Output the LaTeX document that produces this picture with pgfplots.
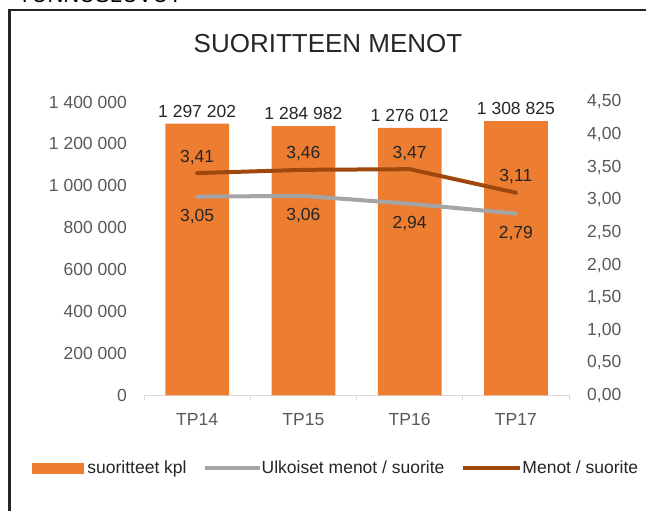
\documentclass[border=0pt]{standalone}
\usepackage{fontspec}
\setmainfont{Liberation Sans}
\usepackage{pgfplots}
\pgfplotsset{compat=1.18}
\definecolor{barorange}{HTML}{ED7D31}
\definecolor{lgray}{HTML}{A5A5A5}
\definecolor{dbrown}{HTML}{9E480E}
\definecolor{tickgray}{HTML}{595959}
\definecolor{axisgray}{HTML}{D9D9D9}
\definecolor{labtext}{HTML}{262626}
\pgfkeys{/pgf/number format/assume math mode=true}
\begin{document}
\fontsize{17.5bp}{20bp}\selectfont
\begin{tikzpicture}
\path[use as bounding box] (0,0) rectangle (646bp,511bp);
\clip (0,0) rectangle (646bp,511bp);
\fill[white] (0,0) rectangle (646bp,511bp);
% cut-off heading above the frame
\node[anchor=base west, inner sep=0pt, font=\fontsize{22bp}{24bp}\selectfont] at (18bp,508bp) {TUNNUSLUVUT};
% frame
\draw[line width=2.3bp, color=black!85] (9.5bp,-10bp) -- (9.5bp,500.7bp) -- (680bp,500.7bp);
% title
\node[anchor=base, inner sep=0pt, text=labtext, font=\fontsize{26bp}{30bp}\selectfont] at (328bp,458bp) {SUORITTEEN MENOT};

\begin{axis}[
  at={(144bp,115.5bp)}, anchor=south west,
  scale only axis, width=425bp, height=293.5bp,
  xmin=-0.5, xmax=3.5, ymin=0, ymax=1400000,
  xtick={0,1,2,3}, xticklabels={TP14,TP15,TP16,TP17},
  minor xtick={-0.5,0.5,1.5,2.5,3.5},
  ytick={0,200000,400000,600000,800000,1000000,1200000,1400000},
  axis x line*=bottom, axis y line*=left,
  y axis line style={draw=none},
  x axis line style={draw=axisgray, line width=1bp},
  major tick length=0pt, minor tick length=5bp, tick align=outside,
  minor tick style={draw=axisgray, line width=1bp},
  scaled y ticks=false,
  yticklabel style={anchor=east, inner sep=0pt, xshift=-17bp, text=tickgray,
     /pgf/number format/.cd, fixed, 1000 sep={\ }},
  xticklabel style={anchor=base, inner sep=0pt, yshift=-30.5bp, text=tickgray},
  ybar, bar width=0.6,
  nodes near coords,
  nodes near coords style={anchor=south, inner sep=0pt, yshift=6bp, text=labtext,
     /pgf/number format/.cd, fixed, 1000 sep={\ }},
]
\addplot[fill=barorange, draw=none] coordinates {(0,1297202) (1,1284982) (2,1276012) (3,1308825)};
\end{axis}

\begin{axis}[
  at={(144bp,115.5bp)}, anchor=south west,
  scale only axis, width=425bp, height=293.5bp,
  xmin=-0.5, xmax=3.5, ymin=0, ymax=4.5,
  axis x line=none, axis y line*=right,
  y axis line style={draw=none},
  major tick length=0pt,
  ytick={0,0.5,1,1.5,2,2.5,3,3.5,4,4.5},
  yticklabel style={anchor=west, inner sep=0pt, xshift=18bp, text=tickgray,
     /pgf/number format/.cd, fixed, fixed zerofill, precision=2, use comma},
  legend columns=3,
  legend style={at={(-0.2635,-0.247)}, anchor=west, draw=none, fill=none,
     inner sep=0pt, outer sep=0pt,
     font=\fontsize{17.5bp}{20bp}\selectfont,
     nodes={inner sep=0pt, outer sep=0pt, text=labtext},
     /tikz/column 1/.style={column sep=4bp},
     /tikz/column 2/.style={column sep=16bp},
     /tikz/column 3/.style={column sep=0bp},
     /tikz/column 4/.style={column sep=17bp},
     /tikz/column 5/.style={column sep=0bp}},
  legend cell align=left,
]
\addlegendimage{legend image code/.code={\fill[barorange] (0bp,-5bp) rectangle (51bp,5bp);}}
\addlegendentry{suoritteet kpl}
\addlegendimage{legend image code/.code={\draw[lgray, line width=4bp] (0bp,0bp) -- (55bp,0bp);}}
\addlegendentry{Ulkoiset menot / suorite}
\addlegendimage{legend image code/.code={\draw[dbrown, line width=4bp] (0bp,0bp) -- (57bp,0bp);}}
\addlegendentry{Menot / suorite}

\addplot[forget plot, lgray, line width=4bp, line cap=round, line join=round, mark=none,
  nodes near coords,
  nodes near coords style={anchor=center, inner sep=0pt, yshift=-20bp, text=labtext,
     /pgf/number format/.cd, fixed, fixed zerofill, precision=2, use comma}]
  coordinates {(0,3.05) (1,3.06) (2,2.94) (3,2.79)};
\addplot[forget plot, dbrown, line width=4bp, line cap=round, line join=round, mark=none,
  nodes near coords,
  nodes near coords style={anchor=center, inner sep=0pt, yshift=16bp, text=labtext,
     /pgf/number format/.cd, fixed, fixed zerofill, precision=2, use comma}]
  coordinates {(0,3.41) (1,3.46) (2,3.47) (3,3.11)};
\end{axis}
\end{tikzpicture}
\end{document}
